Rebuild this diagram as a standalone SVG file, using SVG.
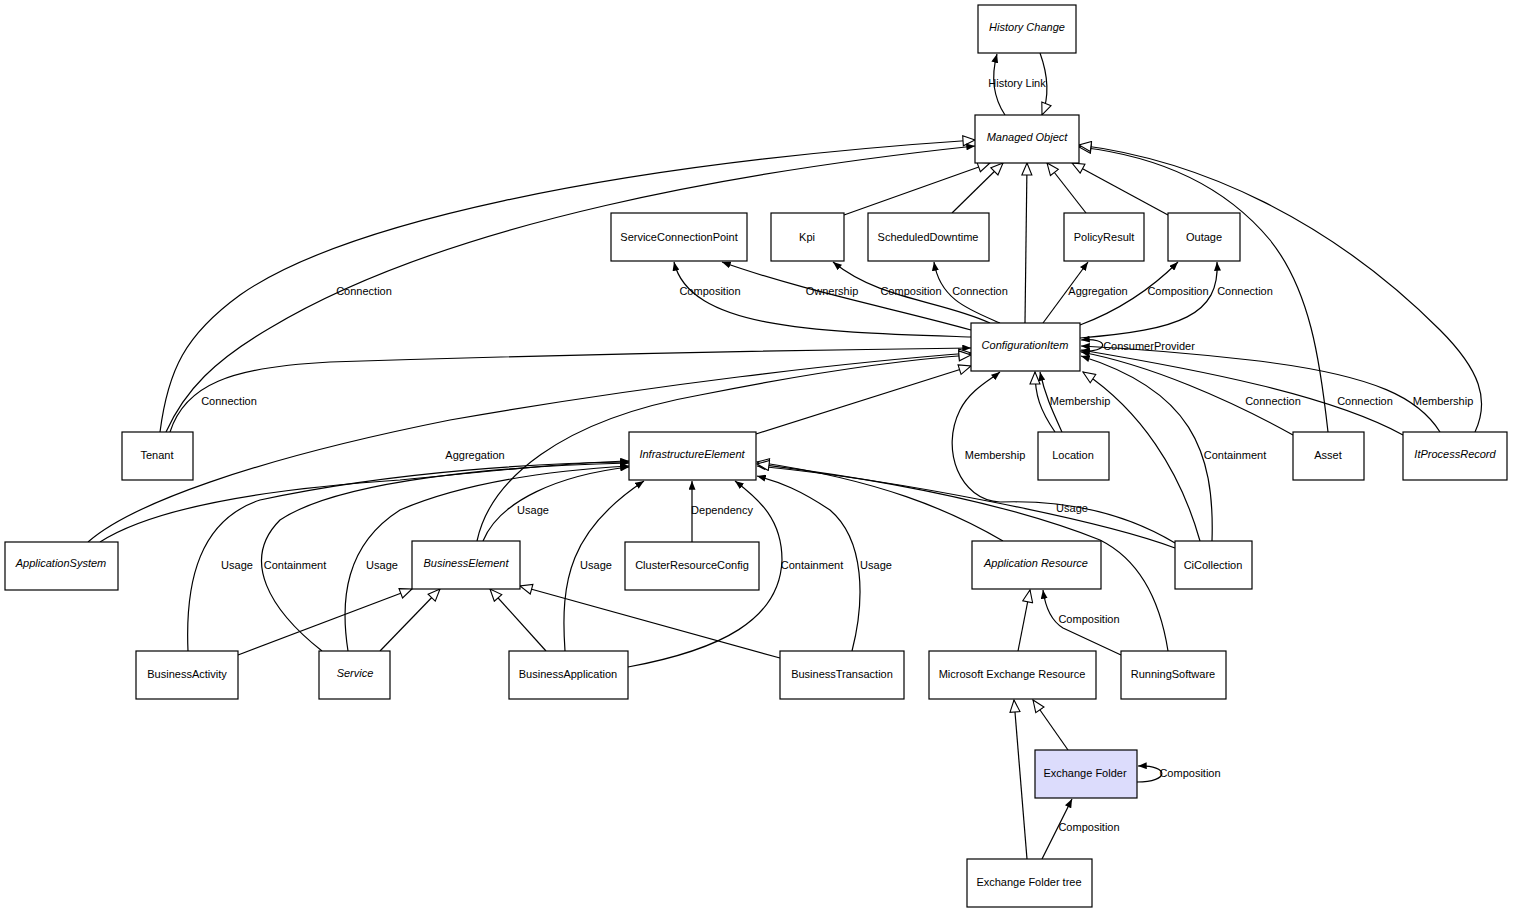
<svg xmlns="http://www.w3.org/2000/svg" width="1513" height="913" viewBox="0 0 1513 913">
<style>
text{font-family:"Liberation Sans",Arial,sans-serif;font-size:11px;fill:#000}
.n rect{fill:#fff;stroke:#000;stroke-width:1.2}
.n text{text-anchor:middle}
.i text{font-style:italic}
.e path{fill:none;stroke:#000;stroke-width:1.2}
.e .f{marker-end:url(#f)}
.e .h{marker-end:url(#h)}
.l text{text-anchor:middle}
</style>
<defs>
<marker id="f" viewBox="0 0 10 8" refX="10" refY="4" markerWidth="9" markerHeight="7" orient="auto" markerUnits="userSpaceOnUse"><path d="M0,0 L10,4 L0,8 z" fill="#000"/></marker>
<marker id="h" viewBox="0 0 14 12" refX="13" refY="6" markerWidth="14" markerHeight="12" orient="auto" markerUnits="userSpaceOnUse"><path d="M1,1 L13,6 L1,11 z" fill="#fff" stroke="#000" stroke-width="1.1"/></marker>
</defs>
<rect width="1513" height="913" fill="#fff"/>
<g class="e" id="connectors">
<path class="f" d="M1005,115 C995,100 990,80 997,54"/>
<path class="h" d="M1040,53 C1048,75 1050,95 1042,115"/>
<path class="h" d="M160,432 C168,370 185,335 240,295 C340,225 600,165 975,140"/>
<path class="f" d="M166,432 C185,390 215,360 270,328 C450,220 750,170 975,146"/>
<path class="h" d="M844,215 L990,163"/>
<path class="h" d="M952,213 L1003,163"/>
<path class="h" d="M1025,323 L1027,163"/>
<path class="h" d="M1086,213 L1047,163"/>
<path class="h" d="M1168,215 L1072,163"/>
<path class="h" d="M1328,432 C1320,360 1310,290 1270,240 C1220,180 1150,155 1079,147"/>
<path class="h" d="M1475,432 C1490,400 1480,370 1440,330 C1330,220 1200,160 1079,145"/>
<path class="f" d="M971,337 C820,332 690,330 674,262"/>
<path class="f" d="M971,330 C900,310 800,290 722,262"/>
<path class="f" d="M990,323 C940,300 880,300 833,262"/>
<path class="f" d="M1000,323 C970,310 940,300 934,262"/>
<path class="f" d="M1043,323 L1088,262"/>
<path class="f" d="M1080,325 C1120,310 1150,290 1178,262"/>
<path class="f" d="M1080,338 C1180,330 1220,315 1217,262"/>
<path class="f" d="M1080,351 C1110,353 1110,337 1081,340"/>
<path class="f" d="M170,432 C185,385 230,367 330,362 C550,355 800,350 971,348"/>
<path class="h" d="M88,542 C130,505 250,460 450,420 C650,385 850,362 971,353"/>
<path class="f" d="M100,542 C150,510 250,490 400,480 C500,470 580,462 629,461"/>
<path class="h" d="M756,434 L971,366"/>
<path class="h" d="M477,541 C490,480 560,420 700,395 C800,375 900,360 971,355"/>
<path class="f" d="M483,541 C500,500 560,475 629,467"/>
<path class="h" d="M1055,432 C1040,410 1035,395 1035,372"/>
<path class="f" d="M1062,432 C1052,410 1045,395 1040,372"/>
<path class="f" d="M1175,543 C1120,510 1060,500 1000,502 C960,500 940,450 960,410 C970,390 990,380 1000,372"/>
<path class="f" d="M1175,548 C1100,520 900,480 757,466"/>
<path class="f" d="M1212,541 C1215,450 1190,390 1081,356"/>
<path class="h" d="M1200,541 C1180,470 1140,410 1083,372"/>
<path class="f" d="M1293,435 C1230,400 1150,365 1081,352"/>
<path class="f" d="M1403,435 C1330,395 1200,370 1081,350"/>
<path class="f" d="M1440,432 C1420,400 1380,375 1250,360 C1180,352 1120,348 1081,346"/>
<path class="f" d="M188,651 C185,580 200,520 260,500 C400,470 550,463 629,462"/>
<path class="f" d="M322,651 C270,610 240,560 280,520 C340,480 500,466 629,463"/>
<path class="f" d="M348,651 C340,600 345,545 400,510 C470,480 560,470 629,466"/>
<path class="f" d="M565,651 C560,580 570,530 644,481"/>
<path class="f" d="M628,667 C720,650 780,620 782,560 C782,520 760,500 735,481"/>
<path class="f" d="M692,542 L692,481"/>
<path class="f" d="M852,651 C865,600 865,540 830,510 C800,490 780,482 757,476"/>
<path class="h" d="M1003,541 C950,510 880,480 757,462"/>
<path class="h" d="M1168,651 C1160,600 1140,560 1100,540 C1000,500 870,478 757,464"/>
<path class="h" d="M238,655 L412,589"/>
<path class="h" d="M380,651 L440,589"/>
<path class="h" d="M546,651 L490,589"/>
<path class="h" d="M780,658 L520,586"/>
<path class="h" d="M1018,651 L1030,590"/>
<path class="f" d="M1121,655 L1063,628 C1050,620 1045,605 1043,590"/>
<path class="h" d="M1068,750 L1033,700"/>
<path class="f" d="M1137,782 C1170,782 1170,765 1138,766"/>
<path class="f" d="M1042,859 L1072,799"/>
<path class="h" d="M1027,859 L1014,700"/>
</g>
<g class="l" id="labels">
<text x="1017" y="87">History Link</text>
<text x="364" y="295">Connection</text>
<text x="710" y="295">Composition</text>
<text x="832" y="295">Ownership</text>
<text x="911" y="295">Composition</text>
<text x="980" y="295">Connection</text>
<text x="1098" y="295">Aggregation</text>
<text x="1178" y="295">Composition</text>
<text x="1245" y="295">Connection</text>
<text x="1149" y="350">ConsumerProvider</text>
<text x="229" y="405">Connection</text>
<text x="1080" y="405">Membership</text>
<text x="1273" y="405">Connection</text>
<text x="1365" y="405">Connection</text>
<text x="1443" y="405">Membership</text>
<text x="475" y="459">Aggregation</text>
<text x="995" y="459">Membership</text>
<text x="1235" y="459">Containment</text>
<text x="533" y="514">Usage</text>
<text x="722" y="514">Dependency</text>
<text x="1072" y="512">Usage</text>
<text x="237" y="569">Usage</text>
<text x="295" y="569">Containment</text>
<text x="382" y="569">Usage</text>
<text x="596" y="569">Usage</text>
<text x="812" y="569">Containment</text>
<text x="876" y="569">Usage</text>
<text x="1089" y="623">Composition</text>
<text x="1190" y="777">Composition</text>
<text x="1089" y="831">Composition</text>
</g>
<g class="n i" id="HistoryChange"><rect x="978" y="5" width="98" height="48"/><text x="1027" y="31">History Change</text></g>
<g class="n i" id="ManagedObject"><rect x="975" y="115" width="104" height="48"/><text x="1027" y="141">Managed Object</text></g>
<g class="n" id="ServiceConnectionPoint"><rect x="611" y="213" width="136" height="48"/><text x="679" y="241">ServiceConnectionPoint</text></g>
<g class="n" id="Kpi"><rect x="771" y="213" width="73" height="48"/><text x="807" y="241">Kpi</text></g>
<g class="n" id="ScheduledDowntime"><rect x="868" y="213" width="121" height="48"/><text x="928" y="241">ScheduledDowntime</text></g>
<g class="n" id="PolicyResult"><rect x="1064" y="213" width="80" height="48"/><text x="1104" y="241">PolicyResult</text></g>
<g class="n" id="Outage"><rect x="1168" y="213" width="72" height="48"/><text x="1204" y="241">Outage</text></g>
<g class="n i" id="ConfigurationItem"><rect x="971" y="323" width="109" height="48"/><text x="1025" y="349">ConfigurationItem</text></g>
<g class="n" id="Tenant"><rect x="122" y="432" width="71" height="48"/><text x="157" y="459">Tenant</text></g>
<g class="n i" id="InfrastructureElement"><rect x="629" y="432" width="127" height="48"/><text x="692" y="458">InfrastructureElement</text></g>
<g class="n" id="Location"><rect x="1038" y="432" width="71" height="48"/><text x="1073" y="459">Location</text></g>
<g class="n" id="Asset"><rect x="1293" y="432" width="71" height="48"/><text x="1328" y="459">Asset</text></g>
<g class="n i" id="ItProcessRecord"><rect x="1403" y="432" width="104" height="48"/><text x="1455" y="458">ItProcessRecord</text></g>
<g class="n i" id="ApplicationSystem"><rect x="5" y="542" width="113" height="48"/><text x="61" y="567">ApplicationSystem</text></g>
<g class="n i" id="BusinessElement"><rect x="412" y="541" width="108" height="48"/><text x="466" y="567">BusinessElement</text></g>
<g class="n" id="ClusterResourceConfig"><rect x="625" y="542" width="134" height="48"/><text x="692" y="569">ClusterResourceConfig</text></g>
<g class="n i" id="ApplicationResource"><rect x="972" y="541" width="129" height="48"/><text x="1036" y="567">Application Resource</text></g>
<g class="n" id="CiCollection"><rect x="1175" y="541" width="77" height="48"/><text x="1213" y="569">CiCollection</text></g>
<g class="n" id="BusinessActivity"><rect x="136" y="651" width="102" height="48"/><text x="187" y="678">BusinessActivity</text></g>
<g class="n i" id="Service"><rect x="319" y="651" width="71" height="48"/><text x="355" y="677">Service</text></g>
<g class="n" id="BusinessApplication"><rect x="509" y="651" width="119" height="48"/><text x="568" y="678">BusinessApplication</text></g>
<g class="n" id="BusinessTransaction"><rect x="780" y="651" width="124" height="48"/><text x="842" y="678">BusinessTransaction</text></g>
<g class="n" id="MicrosoftExchangeResource"><rect x="929" y="651" width="167" height="48"/><text x="1012" y="678">Microsoft Exchange Resource</text></g>
<g class="n" id="RunningSoftware"><rect x="1121" y="651" width="105" height="48"/><text x="1173" y="678">RunningSoftware</text></g>
<g class="n" id="ExchangeFolder"><rect x="1035" y="750" width="102" height="48" style="fill:#dcdcfc"/><text x="1085" y="777">Exchange Folder</text></g>
<g class="n" id="ExchangeFolderTree"><rect x="967" y="859" width="125" height="48"/><text x="1029" y="886">Exchange Folder tree</text></g>
</svg>
